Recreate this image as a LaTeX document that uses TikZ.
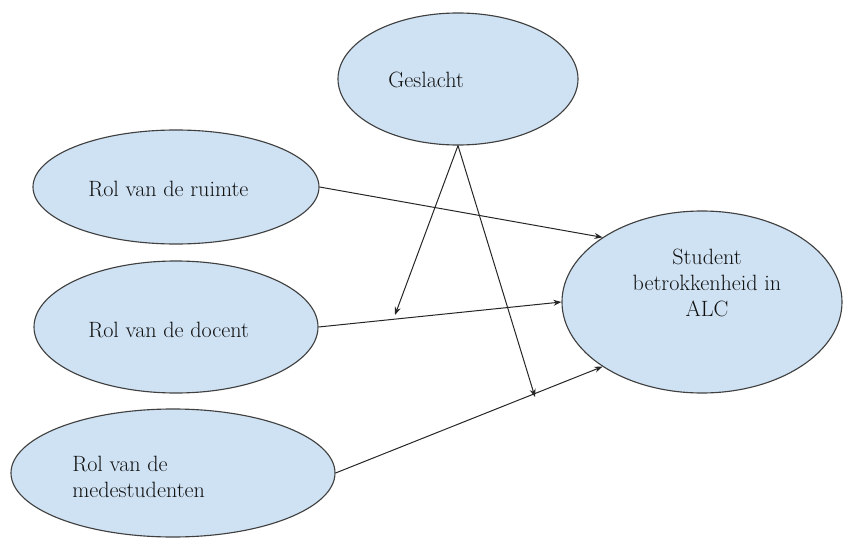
\documentclass[tikz,border=0pt]{standalone}
\usetikzlibrary{arrows.meta,shapes.geometric}
\definecolor{ellfill}{HTML}{CFE2F3}
\definecolor{ellline}{HTML}{404040}
\definecolor{txt}{HTML}{111111}
\begin{document}
\begin{tikzpicture}[x=0.75pt,y=-0.75pt,
  ell/.style={ellipse,draw=ellline,fill=ellfill,line width=0.85pt,inner sep=0pt},
  lbl/.style={inner sep=0pt,text=txt,font=\fontsize{16.6}{19.5}\selectfont},
  conn/.style={draw=black!85,line width=0.75pt,-{Stealth[length=6pt,width=4.5pt]}}]
\useasboundingbox (0,0) rectangle (844,539);
\node[ell,minimum width=180pt,minimum height=99pt] (ge) at (458,79) {};
\node[ell,minimum width=214.5pt,minimum height=85.5pt] (ru) at (176,187) {};
\node[ell,minimum width=213pt,minimum height=99pt] (do) at (176,327) {};
\node[ell,minimum width=243pt,minimum height=96pt] (me) at (173,473) {};
\node[ell,minimum width=210pt,minimum height=136.5pt] (st) at (702,302) {};
\node[lbl,anchor=base west] (get) at (388,87) {Geslacht};
\node[lbl,anchor=base west] (rut) at (88,196) {Rol van de ruimte};
\node[lbl,anchor=base west] (dot) at (88,337) {Rol van de docent};
\node[lbl,anchor=west,align=left] (met) at (72,477) {Rol van de\\medestudenten};
\node[lbl,anchor=center,align=center] (stt) at (707,283) {Student\\betrokkenheid in\\ALC};
\coordinate (c1) at (395,315);
\coordinate (c2) at (535,397);
\draw[conn] (ru.east) -- (st.147.8);
\draw[conn] (do.east) -- (st.west);
\draw[conn] (me.east) -- (st.213.7);
\draw[conn] (ge.south) -- (c1);
\draw[conn] (ge.south) -- (c2);
\end{tikzpicture}
\end{document}
